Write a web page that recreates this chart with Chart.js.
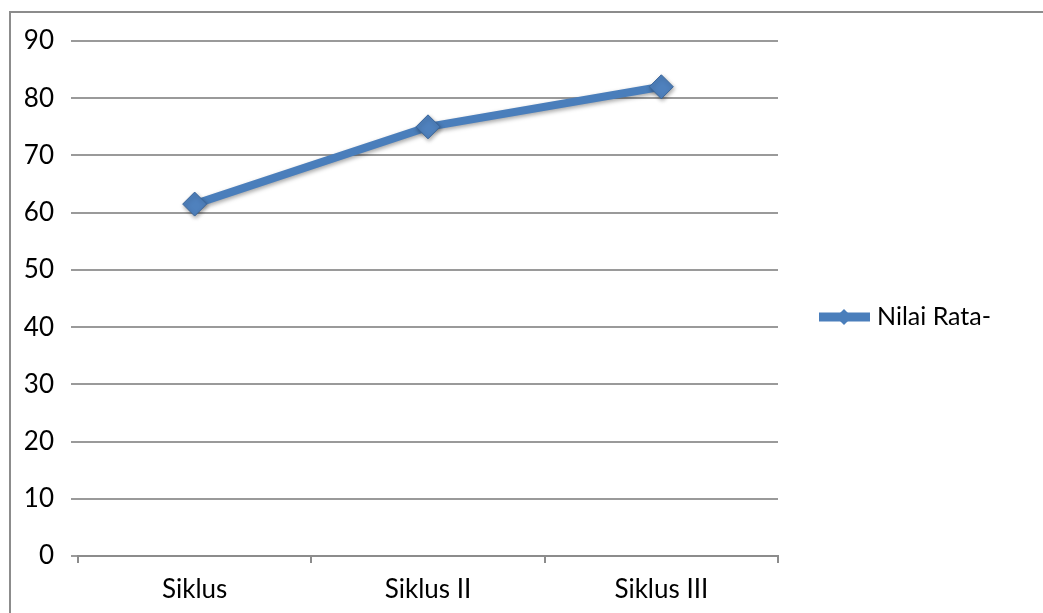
<!DOCTYPE html>
<html>
<head>
<meta charset="utf-8">
<script src="https://cdn.jsdelivr.net/npm/chart.js@4"></script>
<style>
    html, body { margin: 0; padding: 0; background: #fff; overflow: hidden; }
    #wrap { position: relative; width: 1043px; height: 613px; }
    #frame { position: absolute; left: 9px; top: 11px; width: 1100px; height: 700px; border: 2px solid #8c8c8c; }
    canvas { position: absolute; left: 0; top: 0; }
</style>
</head>
<body>
<div id="wrap">
    <div id="frame"></div>
    <canvas id="chart" width="1043" height="613"></canvas>
</div>
<script>
const categories = ["Siklus", "Siklus II", "Siklus III"];
const seriesName = "Nilai Rata-";
const values = [61.5, 75, 82];
const yTicks = [0, 10, 20, 30, 40, 50, 60, 70, 80, 90];

const lineColor = "#4a7ebb";
const fontFamily = "Lato, 'Open Sans', sans-serif";

// soft shadow under the line and diamonds
const shadowPlugin = {
    id: "shadow",
    beforeDatasetsDraw(chart) {
        const ctx = chart.ctx;
        ctx.save();
        ctx.shadowColor = "rgba(0,0,0,0.35)";
        ctx.shadowBlur = 4;
        ctx.shadowOffsetX = 1;
        ctx.shadowOffsetY = 2;
    },
    afterDatasetsDraw(chart) {
        chart.ctx.restore();
    }
};

// legend on the right: thick line with a diamond, then the label
const sideLegend = {
    id: "sideLegend",
    afterDraw(chart) {
        const ctx = chart.ctx;
        const ds = chart.data.datasets[0];
        const y = 317;
        ctx.save();
        ctx.strokeStyle = lineColor;
        ctx.lineWidth = 9;
        ctx.beginPath();
        ctx.moveTo(819, y);
        ctx.lineTo(870, y);
        ctx.stroke();
        ctx.fillStyle = lineColor;
        ctx.beginPath();
        ctx.moveTo(844 - 8, y);
        ctx.lineTo(844, y - 8);
        ctx.lineTo(844 + 8, y);
        ctx.lineTo(844, y + 8);
        ctx.closePath();
        ctx.fill();
        ctx.fillStyle = "#000";
        ctx.font = "25px " + fontFamily;
        ctx.textBaseline = "middle";
        ctx.fillText(ds.label, 877, y);
        ctx.restore();
    }
};

new Chart(document.getElementById("chart"), {
    type: "line",
    data: {
        labels: categories,
        datasets: [{
            label: seriesName,
            data: values,
            borderColor: lineColor,
            borderWidth: 8,
            pointStyle: "rectRot",
            pointRadius: 12,
            pointBackgroundColor: "#4f81bd",
            pointBorderColor: "#3a659a",
            pointBorderWidth: 1,
            tension: 0
        }]
    },
    options: {
        responsive: false,
        animation: false,
        layout: { padding: { top: 41, right: 265, left: 0, bottom: 0 } },
        plugins: {
            legend: { display: false },
            tooltip: { enabled: false }
        },
        scales: {
            x: {
                offset: true,
                grid: {
                    offset: true,
                    drawOnChartArea: false,
                    drawTicks: true,
                    tickLength: 7,
                    color: "#8c8c8c",
                    lineWidth: 2
                },
                border: { color: "#8c8c8c", width: 2 },
                ticks: {
                    color: "#000",
                    padding: 11,
                    font: { family: fontFamily, size: 26 }
                },
                afterFit(scale) { scale.height = 57; }
            },
            y: {
                min: 0,
                max: 90,
                afterBuildTicks(scale) { scale.ticks = yTicks.map(v => ({ value: v })); },
                grid: {
                    color: "#9a9a9a",
                    lineWidth: 2,
                    drawTicks: true,
                    tickLength: 7
                },
                border: { display: false },
                ticks: {
                    color: "#000",
                    padding: 17,
                    font: { family: fontFamily, size: 26 }
                },
                afterFit(scale) { scale.width = 78; }
            }
        }
    },
    plugins: [shadowPlugin, sideLegend]
});
</script>
</body>
</html>
